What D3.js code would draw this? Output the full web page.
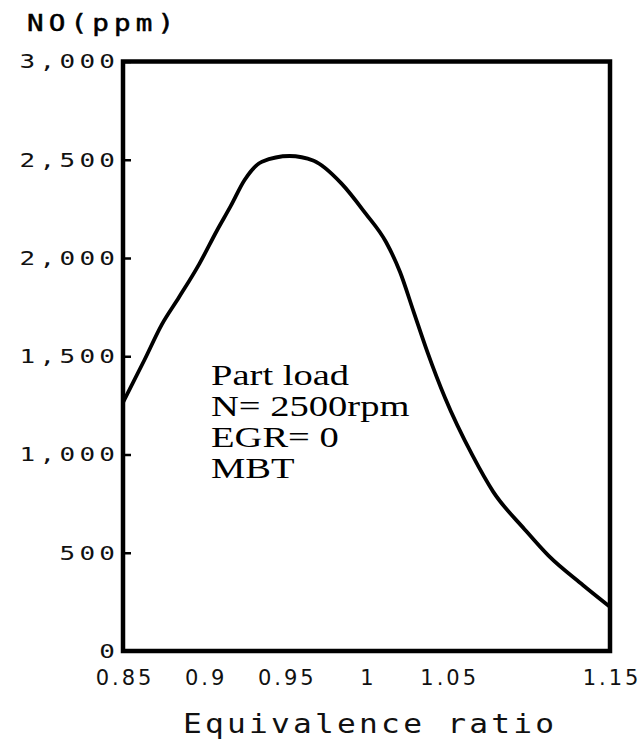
<!DOCTYPE html>
<html><head><meta charset="utf-8">
<script src="https://cdn.jsdelivr.net/npm/d3@7"></script>
<style>html,body{margin:0;padding:0;background:#fff;} svg{display:block}</style>
</head><body>
<svg id="chart" width="643" height="742"></svg>
<script>
// ---- data ----
const eqRatio = [0.85, 0.8632, 0.8738, 0.8845, 0.8972, 0.9079, 0.9164, 0.9249, 0.9356, 0.9526, 0.9675, 0.9845, 0.9994, 1.0121, 1.0206, 1.0291, 1.0376, 1.0483, 1.0653, 1.0781, 1.0973, 1.1121, 1.1334, 1.15];
const noPpm   = [1265, 1481, 1660, 1800, 1973, 2140, 2265, 2397, 2490, 2519, 2495, 2380, 2227, 2080, 1930, 1725, 1520, 1290, 995, 810, 620, 485, 335, 225];
const xTickValues = [0.85, 0.9, 0.95, 1, 1.05, 1.15];
const xTickLabels = ["0.85", "0.9", "0.95", "1", "1.05", "1.15"];
const yTickValues = [0, 500, 1000, 1500, 2000, 2500, 3000];
const yTickLabels = ["0", "500", "1,000", "1,500", "2,000", "2,500", "3,000"];
const annotationLines = ["Part load", "N= 2500rpm", "EGR= 0", "MBT"];
const yAxisTitle = "NO(ppm)";
const xAxisTitle = "Equivalence ratio";

// ---- layout ----
const svg = d3.select("#chart");
const x = d3.scaleLinear().domain([0.85, 1.15]).range([123, 610]);
const y = d3.scaleLinear().domain([0, 3000]).range([651, 61.5]);
const [x0, x1] = x.range();
const [yb, yt] = y.range();

// y axis (inward ticks)
const ySpacing = 3.3, yStretch = 1.3;
const yAxis = svg.append("g").attr("transform", `translate(${x0},0)`)
  .call(d3.axisLeft(y).tickValues(yTickValues).tickSize(-8).tickPadding(8)
        .tickFormat((d, i) => yTickLabels[i]));
yAxis.select(".domain").remove();
yAxis.selectAll(".tick line").attr("stroke", "#000").attr("stroke-width", 2.5);
yAxis.selectAll(".tick text")
  .attr("x", 0)
  .attr("transform", `translate(-8,0) scale(${yStretch},1)`)
  .attr("font-family", "'DejaVu Sans Mono', monospace")
  .attr("font-size", 20).attr("fill", "#111")
  .attr("letter-spacing", ySpacing).attr("dx", ySpacing);

// x axis (labels only)
const xSpacing = 3;
const xAxis = svg.append("g").attr("transform", `translate(0,${yb})`)
  .call(d3.axisBottom(x).tickValues(xTickValues).tickSize(0).tickPadding(19)
        .tickFormat((d, i) => xTickLabels[i]));
xAxis.select(".domain").remove();
xAxis.selectAll(".tick text")
  .attr("font-family", "'DejaVu Sans', sans-serif")
  .attr("font-size", 21).attr("fill", "#111")
  .attr("letter-spacing", xSpacing).attr("dx", xSpacing / 2);

// curve
const line = d3.line().x((d, i) => x(eqRatio[i])).y(d => y(d)).curve(d3.curveMonotoneX);
svg.append("path").datum(noPpm)
  .attr("d", line).attr("fill", "none").attr("stroke", "#000")
  .attr("stroke-width", 3.8).attr("stroke-linejoin", "round");

// frame
svg.append("rect")
  .attr("x", x0).attr("y", yt).attr("width", x1 - x0).attr("height", yb - yt)
  .attr("fill", "none").attr("stroke", "#000").attr("stroke-width", 4.5);

// axis titles
svg.append("text").text(yAxisTitle)
  .attr("x", 0).attr("y", 0)
  .attr("transform", "translate(27,31) scale(1.2,1)")
  .attr("font-family", "'DejaVu Sans Mono', monospace").attr("font-size", 23)
  .attr("letter-spacing", 4.3).attr("fill", "#000")
  .attr("stroke", "#000").attr("stroke-width", 0.5);

const tStretch = 1.2, tSpacing = 2.7;
svg.append("text").text(xAxisTitle)
  .attr("x", 0).attr("y", 0).attr("dx", tSpacing / 2)
  .attr("transform", `translate(${(x0 + x1) / 2 + 2},733) scale(${tStretch},1)`)
  .attr("text-anchor", "middle")
  .attr("font-family", "'DejaVu Sans Mono', monospace").attr("font-size", 26)
  .attr("letter-spacing", tSpacing).attr("fill", "#111");

// annotation
const ann = svg.append("g").attr("transform", "translate(211,0) scale(1.33,1)");
ann.selectAll("text").data(annotationLines).join("text")
  .text(d => d)
  .attr("x", 0).attr("y", (d, i) => 385 + i * 31)
  .attr("font-family", "'Liberation Serif', 'Times New Roman', serif")
  .attr("font-size", 29).attr("fill", "#000");
</script>
</body></html>
